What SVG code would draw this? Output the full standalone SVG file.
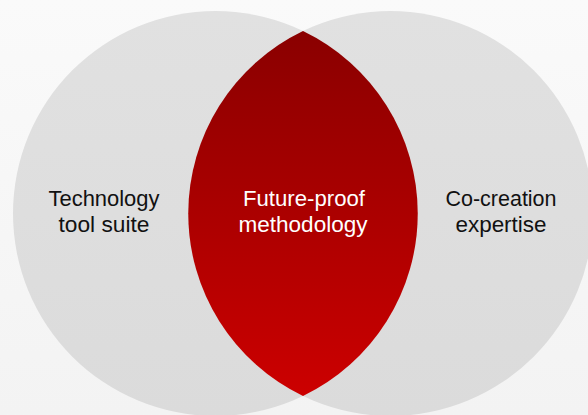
<svg xmlns="http://www.w3.org/2000/svg" width="588" height="415" viewBox="0 0 588 415">
  <defs>
    <linearGradient id="bg" x1="0" y1="0" x2="0" y2="1">
      <stop offset="0" stop-color="#fafafa"/>
      <stop offset="1" stop-color="#f3f3f3"/>
    </linearGradient>
    <linearGradient id="grey" x1="0" y1="0" x2="0" y2="1">
      <stop offset="0" stop-color="#e1e1e1"/>
      <stop offset="1" stop-color="#dbdbdb"/>
    </linearGradient>
    <linearGradient id="red" gradientUnits="userSpaceOnUse" x1="0" y1="31" x2="0" y2="396">
      <stop offset="0" stop-color="#8a0000"/>
      <stop offset="1" stop-color="#cc0000"/>
    </linearGradient>
  </defs>
  <style>
    .circle { fill: url(#grey); }
    .lbl { font-family: "Liberation Sans", Arial, sans-serif; font-size: 22px; text-anchor: middle; }
    .dark { fill: #111111; }
    .light { fill: #ffffff; }
  </style>
  <rect x="0" y="0" width="588" height="415" fill="url(#bg)"/>
  <g id="technology">
    <circle class="circle" cx="215.5" cy="213.5" r="202.5"/>
    <text class="lbl dark" x="104" y="206" textLength="111" lengthAdjust="spacingAndGlyphs">Technology</text>
    <text class="lbl dark" x="104" y="232" textLength="91" lengthAdjust="spacingAndGlyphs">tool suite</text>
  </g>
  <g id="cocreation">
    <circle class="circle" cx="390.5" cy="213.5" r="202.5"/>
    <text class="lbl dark" x="501" y="206" textLength="111" lengthAdjust="spacingAndGlyphs">Co-creation</text>
    <text class="lbl dark" x="501" y="232" textLength="91" lengthAdjust="spacingAndGlyphs">expertise</text>
  </g>
  <g id="methodology">
    <path d="M303,31 A202.5,202.5 0 0,1 303,396 A202.5,202.5 0 0,1 303,31 Z" fill="url(#red)"/>
    <text class="lbl light" x="304" y="206" textLength="122" lengthAdjust="spacingAndGlyphs">Future-proof</text>
    <text class="lbl light" x="303" y="232" textLength="129" lengthAdjust="spacingAndGlyphs">methodology</text>
  </g>
  <g id="connectors"/>
</svg>
